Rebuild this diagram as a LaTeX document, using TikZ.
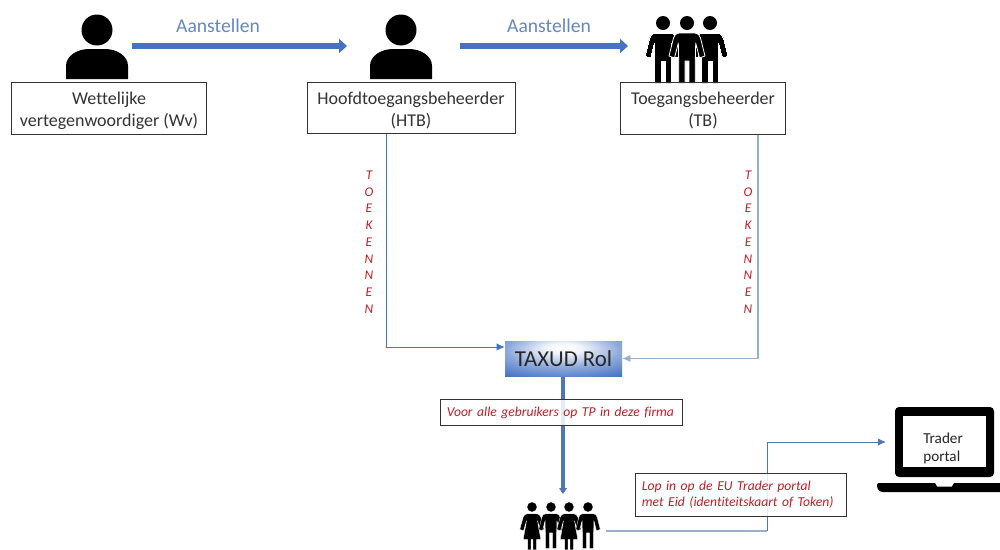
\documentclass[tikz,border=0pt]{standalone}
\usepackage{fontspec}
\setmainfont[Ligatures=NoCommon]{Carlito}
\usetikzlibrary{arrows.meta,backgrounds}
\definecolor{blueA}{RGB}{68,114,196}
\definecolor{blueS}{RGB}{82,118,180}
\definecolor{blueB}{RGB}{150,175,205}
\definecolor{lblue}{RGB}{100,135,190}
\definecolor{redT}{RGB}{192,30,40}
\pgfdeclareradialshading{taxud}{\pgfpoint{0bp}{16bp}}{color(0bp)=(white);color(8bp)=(white!92!blueA);color(24bp)=(blueA!60!white);color(42bp)=(blueA);color(100bp)=(blueA)}
\newcommand{\upl}{\rule{0pt}{12.5pt}}
\tikzset{
 lab/.style={draw=black!80,line width=0.6pt,fill=white,fill opacity=.85,text opacity=1,align=center,inner sep=0pt,font=\fontsize{13.5pt}{16.5pt}\selectfont,text=black!80},
 redbox/.style={draw=black!80,line width=0.6pt,fill=white,fill opacity=.85,text opacity=1,align=left,inner sep=0pt,font=\fontsize{10.2pt}{12pt}\selectfont\itshape,text=redT},
 vred/.style={align=center,inner sep=0pt,font=\fontsize{10pt}{12.56pt}\selectfont\itshape,text=redT},
 bigarrow/.style={draw=blueA,line width=5.2pt,-{Triangle[length=6pt,width=10.5pt]}},
 thinarrow/.style={draw=blueA,line width=0.7pt,-{Latex[length=6pt,width=5.5pt]}},
 pale/.style={draw=blueB,line width=1.1pt,-{Latex[length=6pt,width=5.5pt]}},
 aan/.style={inner sep=0pt,font=\fontsize{14.7pt}{16pt}\selectfont,text=lblue},
 icon/.style={fill=black,draw=none},
}
\newcommand{\bust}[2]{\begin{scope}[shift={(#1,#2)}]
 \fill[icon] (0,0) circle (15.5);
 \fill[icon] (-31,49) -- (-31,36) .. controls (-31,26) and (-20,19) .. (-8,19) -- (8,19) .. controls (20,19) and (31,26) .. (31,36) -- (31,49) -- cycle;
\end{scope}}
% #4 = outline width
\newcommand{\man}[4]{\begin{scope}[shift={(#1,#2)},scale=#3]
 \fill[icon] (0,0) circle (7);
 \path[fill=black,draw=white,line width=#4,line join=round] (-8,10) -- (8,10) .. controls (11,10) and (12.5,12) .. (13.5,15) -- (18,33) -- (12.5,35) -- (8.7,20) -- (8.3,38) -- (8.3,61) -- (2,61) -- (2,38) -- (-2,38) -- (-2,61) -- (-8.3,61) -- (-8.3,38) -- (-8.7,20) -- (-12.5,35) -- (-18,33) -- (-13.5,15) .. controls (-12.5,12) and (-11,10) .. (-8,10) -- cycle;
\end{scope}}
\newcommand{\woman}[4]{\begin{scope}[shift={(#1,#2)},scale=#3]
 \fill[icon] (0,0) circle (7);
 \path[fill=black,draw=white,line width=#4,line join=round] (-7,10) -- (7,10) .. controls (10,10) and (12,12) .. (13,15) -- (18,33) -- (12.5,35) -- (8,20) -- (13,48) -- (6.5,48) -- (6.5,63) -- (1.5,63) -- (1.5,48) -- (-1.5,48) -- (-1.5,63) -- (-6.5,63) -- (-6.5,48) -- (-13,48) -- (-8,20) -- (-12.5,35) -- (-18,33) -- (-13,15) .. controls (-12,12) and (-10,10) .. (-7,10) -- cycle;
\end{scope}}
\begin{document}
\begin{tikzpicture}[x=0.75pt,y=-0.75pt]
\useasboundingbox (0,0) rectangle (1000,550);
\coordinate (a1s) at (132,46); \coordinate (a1e) at (347,46);
\coordinate (a2s) at (460,46); \coordinate (a2e) at (628,46);
\coordinate (ppl) at (563,492);
\coordinate (grp) at (606,531);
\coordinate (lapt) at (886,442);
\coordinate (elb) at (767,442);
\coordinate (elb2) at (767,531);
% figures
\bust{97}{30}
\bust{401}{30}
\man{663}{23}{1}{0pt} \man{710}{23}{1}{0pt} \man{687}{23}{1}{0.6pt}
\woman{532}{507}{.68}{0.25pt} \man{551}{507}{.68}{0.25pt} \woman{569}{507}{.68}{0.25pt} \man{588}{507}{.68}{0.25pt}
% laptop
\fill[icon,rounded corners=3pt] (895,407) rectangle (994,477);
\fill[white] (903,416) rectangle (986,467);
\fill[icon] (877,485) .. controls (877,484) and (878,483) .. (879,483) -- (935,483) -- (937,486.5) -- (952,486.5) -- (954,483) -- (1000,483) -- (1000,492) -- (883,492) .. controls (879,492) and (877,489) .. (877,485) -- cycle;
\node[inner sep=0pt,align=left,anchor=west,font=\fontsize{11.4pt}{13.5pt}\selectfont,text=black!85] (tp) at (923,448) {Trader\\portal};
% nodes
\node[inner sep=0pt,minimum width=117*0.75pt,minimum height=35*0.75pt,shading=taxud,font=\fontsize{17.1pt}{20pt}\selectfont,text=black!85] (taxud) at (563.5,358.5) {TAXUD Rol};
\node[lab,minimum width=195*0.75pt,minimum height=52*0.75pt] (wv) at (109,108.5) {\upl Wettelijke\\vertegenwoordiger (Wv)};
\node[lab,minimum width=208*0.75pt,minimum height=51*0.75pt] (htb) at (411,108) {\upl Hoofdtoegangsbeheerder\\(HTB)};
\node[lab,minimum width=165*0.75pt,minimum height=52*0.75pt] (tb) at (703,108) {\upl Toegangsbeheerder\\(TB)};
\node[aan] (aan1) at (218,26) {Aanstellen};
\node[aan] (aan2) at (549,26) {Aanstellen};
\node[vred] (t1) at (369,242) {T\\O\\E\\K\\E\\N\\N\\E\\N};
\node[vred] (t2) at (748,242) {T\\O\\E\\K\\E\\N\\N\\E\\N};
\node[redbox,minimum width=242*0.75pt,minimum height=26*0.75pt,anchor=west,text width=229*0.75pt] (voor) at (440,412.5) {Voor alle gebruikers op TP in deze firma};
\node[redbox,minimum width=211*0.75pt,minimum height=43*0.75pt,anchor=west,text width=198*0.75pt] (lop) at (635,494.5) {Lop in op de EU Trader portal\\met Eid (identiteitskaart of Token)};
% connectors, behind the boxes
\begin{scope}[on background layer]
\draw[bigarrow] (a1s) -- (a1e);
\draw[bigarrow] (a2s) -- (a2e);
\draw[thinarrow] (htb.south -| 386,0) -- (386,347) -- (taxud.west |- 0,347);
\draw[pale] (tb.south -| 758,0) -- (758,358.5) -- (taxud.east);
\draw[draw=blueS,line width=3pt] (taxud.south -| ppl) -- (ppl);
\fill[blueS] (559,488) -- (567,488) -- (563,494) -- cycle;
\draw[draw=blueB,line width=1.1pt] (grp) -- (elb2);
\draw[draw=blueS,line width=.7pt,-{Latex[length=6pt,width=5.5pt]}] (elb2) -- (elb) -- (lapt);
\end{scope}
\end{tikzpicture}
\end{document}
